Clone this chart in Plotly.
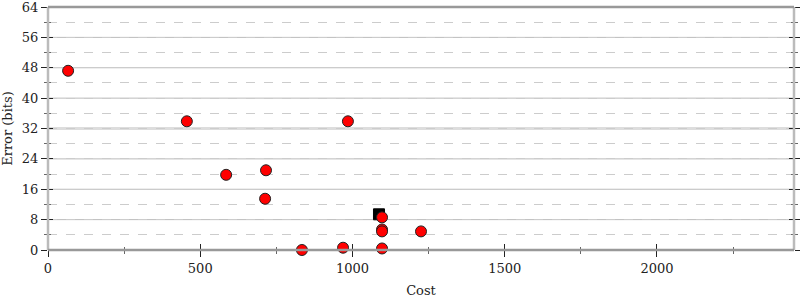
import plotly.graph_objects as go

cost = [66, 456, 585, 716, 713, 985, 834, 969, 1097, 1097, 1097, 1097, 1225]
error = [47.2, 33.9, 19.8, 21.0, 13.5, 33.9, 0.0, 0.6, 0.4, 5.4, 4.9, 8.6, 4.9]
best_cost = [1087]
best_error = [9.4]

x_ticks = [0, 500, 1000, 1500, 2000]
y_ticks = [0, 8, 16, 24, 32, 40, 48, 56, 64]
highlight_y = 32

FONT = "DejaVu Serif"

fig = go.Figure()
fig.add_trace(go.Scatter(x=best_cost, y=best_error, mode="markers",
                         marker=dict(symbol="square", size=11, color="black",
                                     line=dict(color="black", width=1)),
                         showlegend=False, cliponaxis=False))
fig.add_trace(go.Scatter(x=cost, y=error, mode="markers",
                         marker=dict(symbol="circle", size=11, color="#ff0000",
                                     line=dict(color="#222222", width=1)),
                         showlegend=False, cliponaxis=False))
# inside tick overlays
fig.add_trace(go.Scatter(x=[None], y=[None], xaxis="x2", yaxis="y2", showlegend=False))

shapes = []
for v in y_ticks[1:-1]:
    if v == highlight_y:
        shapes.append(dict(type="line", xref="paper", yref="y", x0=0, x1=1, y0=v, y1=v,
                           line=dict(color="#dddddd", width=3), layer="below"))
    else:
        shapes.append(dict(type="line", xref="paper", yref="y", x0=0, x1=1, y0=v, y1=v,
                           line=dict(color="#bbbbbb", width=1), layer="below"))
shapes += [
    dict(type="line", xref="paper", yref="paper", x0=0, x1=0, y0=0, y1=1,
         line=dict(color="#bbbbbb", width=2.5)),
    dict(type="line", xref="paper", yref="paper", x0=1, x1=1, y0=0, y1=1,
         line=dict(color="#bbbbbb", width=2.5)),
    dict(type="line", xref="paper", yref="paper", x0=0, x1=1, y0=0, y1=0,
         line=dict(color="#999999", width=2.5)),
    dict(type="line", xref="paper", yref="paper", x0=0, x1=1, y0=1, y1=1,
         line=dict(color="#999999", width=2.5)),
]

fig.update_layout(
    width=800, height=300,
    margin=dict(l=48, r=6, t=7, b=50, autoexpand=False),
    paper_bgcolor="white", plot_bgcolor="white",
    font=dict(family=FONT, size=13, color="#222222"),
    xaxis=dict(range=[0, 2450], tickvals=x_ticks, ticks="outside", ticklen=6,
               tickcolor="#222222", showgrid=False, zeroline=False, showline=False,
               automargin=False, ticklabeloverflow="allow",
               title=dict(text="Cost", standoff=11, font=dict(size=13)),
               minor=dict(dtick=250, tick0=0, ticks="outside", ticklen=3, tickcolor="#666666")),
    yaxis=dict(range=[0, 64], tickvals=y_ticks, ticks="outside", ticklen=6,
               tickcolor="#222222", showgrid=False,
               zeroline=False, showline=False, mirror="ticks", automargin=False,
               ticklabeloverflow="allow",
               title=dict(text="Error (bits)", standoff=6, font=dict(size=13)),
               minor=dict(dtick=4, tick0=0, ticks="outside", ticklen=3, tickcolor="#666666",
                          showgrid=True, gridcolor="#cccccc", griddash="dash", gridwidth=1)),
    xaxis2=dict(range=[0, 2450], overlaying="x", tickvals=x_ticks, ticks="inside", ticklen=6,
                tickcolor="#222222", showticklabels=False, showgrid=False, zeroline=False,
                automargin=False,
                minor=dict(dtick=250, tick0=0, ticks="inside", ticklen=3, tickcolor="#666666")),
    yaxis2=dict(range=[0, 64], overlaying="y", tickvals=y_ticks, ticks="inside", ticklen=5,
                tickcolor="#222222", showticklabels=False, showgrid=False, zeroline=False,
                mirror="ticks", automargin=False,
                minor=dict(dtick=4, tick0=0, ticks="inside", ticklen=3, tickcolor="#666666")),
    shapes=shapes,
)
fig.write_html("out.html")
